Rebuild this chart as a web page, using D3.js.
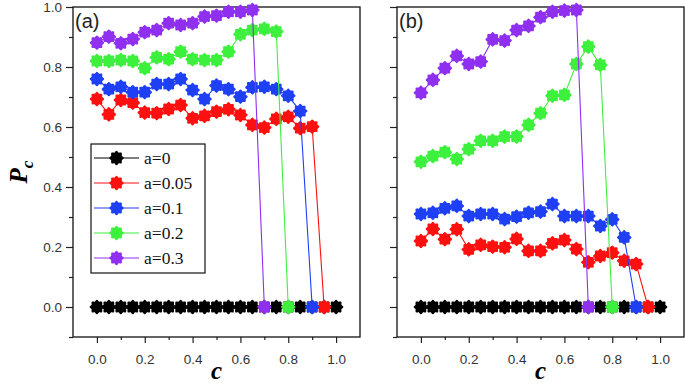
<!DOCTYPE html>
<html><head><meta charset="utf-8">
<script src="https://cdn.jsdelivr.net/npm/d3@7"></script>
<style>body{margin:0;background:#fff}svg{display:block}</style>
</head><body>
<svg id="chart" width="685" height="388"></svg>
<script>
// ---- data ----
const cValues = [0,0.05,0.1,0.15,0.2,0.25,0.3,0.35,0.4,0.45,0.5,0.55,0.6,0.65,0.7,0.75,0.8,0.85,0.9,0.95,1.0];
const seriesNames = ["a=0","a=0.05","a=0.1","a=0.2","a=0.3"];
const seriesColors = ["#000000","#ff1010","#1f3ff5","#3ef03e","#8f2ff0"];
const xTickLabels = ["0.0","0.2","0.4","0.6","0.8","1.0"];
const yTickLabels = ["0.0","0.2","0.4","0.6","0.8","1.0"];

// Panel (a)
const a_a0   = [0,0,0,0,0,0,0,0,0,0,0,0,0,0,0,0,0,0,0,0,0];
const a_a005 = [0.693,0.642,0.69,0.681,0.648,0.646,0.66,0.673,0.629,0.637,0.651,0.659,0.64,0.607,0.598,0.627,0.634,0.596,0.601,0];
const a_a01  = [0.76,0.726,0.734,0.716,0.716,0.743,0.743,0.76,0.723,0.693,0.738,0.726,0.701,0.732,0.734,0.726,0.704,0.653,0];
const a_a02  = [0.82,0.82,0.823,0.82,0.796,0.832,0.826,0.851,0.826,0.823,0.823,0.851,0.909,0.923,0.927,0.918,0];
const a_a03  = [0.881,0.901,0.879,0.893,0.916,0.923,0.946,0.94,0.946,0.968,0.971,0.984,0.984,0.99,0];

// Panel (b)
const b_a0   = [0,0,0,0,0,0,0,0,0,0,0,0,0,0,0,0,0,0,0,0,0];
const b_a005 = [0.22,0.26,0.226,0.259,0.192,0.207,0.201,0.199,0.227,0.187,0.187,0.212,0.223,0.193,0.149,0.17,0.181,0.154,0.143,0];
const b_a01  = [0.31,0.314,0.329,0.337,0.303,0.31,0.31,0.293,0.301,0.314,0.318,0.343,0.303,0.303,0.303,0.27,0.292,0.232,0];
const b_a02  = [0.484,0.503,0.516,0.493,0.526,0.554,0.554,0.568,0.568,0.607,0.646,0.704,0.707,0.81,0.868,0.807,0];
const b_a03  = [0.714,0.757,0.796,0.837,0.81,0.818,0.892,0.888,0.923,0.937,0.966,0.984,0.988,0.99,0];

const panels = [
  {label:"(a)", left:73, right:360, data:[a_a0,a_a005,a_a01,a_a02,a_a03], yLabels:true, legend:true},
  {label:"(b)", left:397, right:684, data:[b_a0,b_a005,b_a01,b_a02,b_a03], yLabels:false, legend:false}
];

const svg = d3.select("#chart");
const plotTop = 7, plotBottom = 337;

// marker shape: rounded 8-lobed blob
function markerPath(r){
  const pts = d3.range(32).map(i => {
    const t = i/32*2*Math.PI;
    return [t, r*(1+0.12*Math.cos(8*t))];
  });
  return d3.lineRadial().curve(d3.curveCardinalClosed)(pts);
}
const mPath = markerPath(6.5);

panels.forEach(p => {
  const x = d3.scaleLinear().domain([-0.1,1.1]).range([p.left,p.right]);
  const y = d3.scaleLinear().domain([-0.1,1.0]).range([plotBottom,plotTop]);
  const g = svg.append("g");

  const xMajor = xTickLabels.map(Number);
  const yMajor = yTickLabels.map(Number);
  g.append("g").attr("transform",`translate(0,${plotBottom})`)
    .call(d3.axisBottom(x).tickValues(xMajor).tickSize(6).tickPadding(11)
      .tickFormat((d,i)=>xTickLabels[i]));
  g.append("g").attr("transform",`translate(0,${plotBottom})`)
    .call(d3.axisBottom(x).tickValues([0.1,0.3,0.5,0.7,0.9]).tickSize(3).tickFormat(""));
  g.append("g").attr("transform",`translate(${p.left},0)`)
    .call(d3.axisLeft(y).tickValues(yMajor).tickSize(7).tickPadding(4)
      .tickFormat((d,i)=>p.yLabels ? yTickLabels[i] : ""));
  g.append("g").attr("transform",`translate(${p.left},0)`)
    .call(d3.axisLeft(y).tickValues([-0.1,0.1,0.3,0.5,0.7,0.9]).tickSize(4).tickFormat(""));
  g.selectAll(".domain").remove();
  g.selectAll(".tick line").attr("stroke","#222").attr("stroke-width",1.2);
  g.selectAll(".tick text").attr("font-family","Liberation Sans, Arial, sans-serif")
    .attr("font-size",13.5).attr("fill","#333");

  g.append("rect").attr("x",p.left).attr("y",plotTop).attr("width",p.right-p.left).attr("height",plotBottom-plotTop)
    .attr("fill","none").attr("stroke","#111").attr("stroke-width",1.3);

  const line = d3.line().x((d,i)=>x(cValues[i])).y(d=>y(d));
  p.data.forEach((vals, si) => {
    const col = seriesColors[si];
    g.append("path").attr("d", line(vals)).attr("fill","none").attr("stroke",col).attr("stroke-width",1.1);
    g.selectAll(null).data(vals).enter().append("path")
      .attr("d", mPath)
      .attr("transform",(d,i)=>`translate(${x(cValues[i])},${y(d)})`)
      .attr("fill",col);
  });

  g.append("text").attr("x",p.left+2).attr("y",28).text(p.label)
    .attr("font-family","Liberation Sans, Arial, sans-serif").attr("font-size",20).attr("fill","#222");

  g.append("text").attr("x",x(0.5)).attr("y",379).attr("text-anchor","middle")
    .attr("font-family","Liberation Serif, Times New Roman, serif").attr("font-style","italic")
    .attr("font-weight","bold").attr("font-size",25).text("c");

  if (p.legend){
    const lg = g.append("g");
    lg.append("rect").attr("x",91).attr("y",144).attr("width",114).attr("height",129)
      .attr("fill","#fff").attr("stroke","#111").attr("stroke-width",1.2);
    seriesNames.forEach((name, si) => {
      const yy = 158 + si*25;
      lg.append("line").attr("x1",94).attr("x2",139).attr("y1",yy).attr("y2",yy)
        .attr("stroke",seriesColors[si]).attr("stroke-width",1.2);
      lg.append("path").attr("d",mPath).attr("transform",`translate(116.5,${yy})`).attr("fill",seriesColors[si]);
      lg.append("text").attr("x",144).attr("y",yy+6).text(name)
        .attr("font-family","Liberation Serif, Times New Roman, serif").attr("font-size",17.5).attr("fill","#111");
    });
  }
});

const yt = svg.append("text").attr("transform","translate(27,172) rotate(-90)")
  .attr("text-anchor","middle").attr("font-family","Liberation Serif, Times New Roman, serif")
  .attr("font-style","italic").attr("font-weight","bold");
yt.append("tspan").attr("font-size",25).text("P");
yt.append("tspan").attr("font-size",17).attr("dy",6).text("c");
</script>
</body></html>
